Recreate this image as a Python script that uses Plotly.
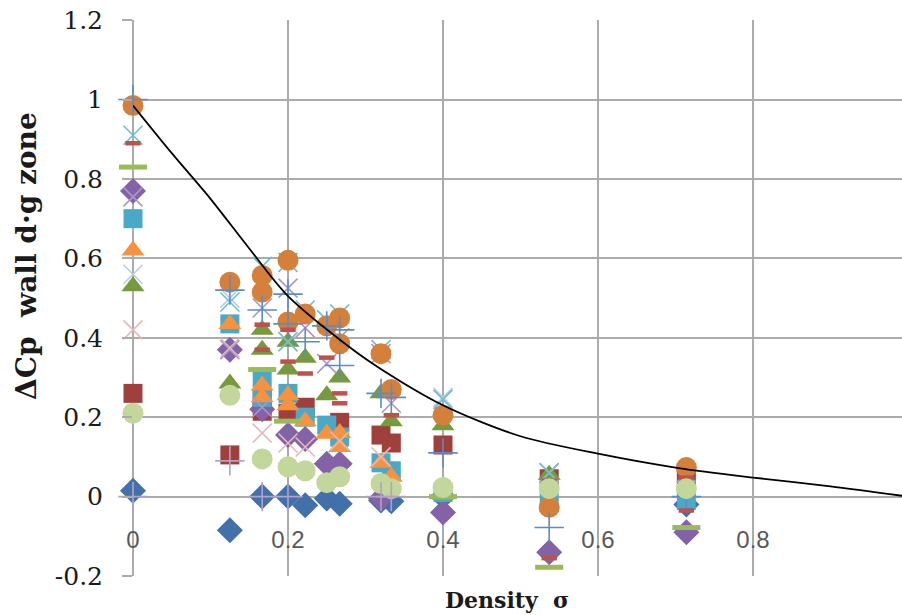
import plotly.graph_objects as go

# ---- data ----
X0, X1, X2, X3, X4, X5, X6 = 0.0, 0.125, 0.1667, 0.2, 0.2222, 0.25, 0.2667
X7, X8, X9, X10, X11 = 0.32, 0.3333, 0.4, 0.537, 0.714

s1_x = [X0, X1, X2, X3, X4, X5, X6, X7, X8, X9, X11]
s1_y = [0.015, -0.085, 0.0, 0.0, -0.022, -0.005, -0.018, -0.01, -0.012, 0.0, -0.02]

s2_x = [X0, X1, X2, X2, X3, X4, X6, X7, X8, X9, X10, X11]
s2_y = [0.26, 0.105, 0.245, 0.215, 0.21, 0.225, 0.187, 0.155, 0.135, 0.13, 0.045, 0.05]

s3_x = [X0, X1, X2, X2, X3, X3, X4, X5, X6, X7, X8, X9, X10]
s3_y = [0.53, 0.285, 0.42, 0.37, 0.39, 0.32, 0.35, 0.255, 0.30, 0.26, 0.19, 0.18, 0.055]

s4_x = [X0, X1, X2, X3, X4, X5, X6, X7, X9, X10, X11]
s4_y = [0.77, 0.37, 0.22, 0.155, 0.145, 0.083, 0.083, -0.005, -0.04, -0.14, -0.09]

s5_x = [X0, X1, X2, X2, X3, X4, X5, X6, X7, X8, X9, X10, X11]
s5_y = [0.70, 0.435, 0.30, 0.25, 0.26, 0.20, 0.18, 0.15, 0.085, 0.065, 0.01, -0.015, -0.01]

s6_x = [X0, X1, X2, X2, X3, X3, X4, X5, X6, X6, X7, X8, X9]
s6_y = [0.62, 0.435, 0.28, 0.25, 0.255, 0.23, 0.19, 0.158, 0.16, 0.125, 0.085, 0.05, 0.005]

s7_x = [X0, X1, X2, X2, X3, X4, X5, X6, X7, X8, X10]
s7_y = [0.755, 0.37, 0.475, 0.225, 0.525, 0.425, 0.335, 0.40, 0.36, 0.235, 0.06]

s8_x = [X0, X1, X3, X9, X10]
s8_y = [0.56, 0.50, 0.39, 0.25, 0.06]

s9_x = [X0, X1, X2, X3, X3, X4, X5, X6, X7, X9, X10, X11]
s9_y = [0.91, 0.49, 0.58, 0.59, 0.39, 0.47, 0.445, 0.46, 0.37, 0.245, 0.06, 0.06]

s10_x = [X0, X1, X2, X2, X3, X3, X4, X5, X6, X6, X7, X8, X9, X10, X11]
s10_y = [0.985, 0.54, 0.557, 0.515, 0.595, 0.44, 0.46, 0.43, 0.45, 0.385, 0.36, 0.27, 0.205, -0.027, 0.073]

s11_x = [X0, X1, X2, X3, X3, X4, X5, X6, X6, X7, X8, X9, X10, X11]
s11_y = [1.0, 0.52, 0.47, 0.51, 0.435, 0.39, 0.43, 0.42, 0.33, 0.26, 0.25, 0.11, -0.078, 0.0]

s12_x = [X0, X2, X2, X3, X3, X4, X5, X6, X6, X8, X10, X10, X11, X11]
s12_y = [0.89, 0.433, 0.37, 0.42, 0.34, 0.31, 0.35, 0.26, 0.235, 0.205, 0.04, -0.155, 0.048, -0.035]

s13_x = [X0, X2, X3, X9, X10, X11]
s13_y = [0.83, 0.32, 0.19, 0.0, -0.178, -0.078]

s14_x = [X0, X1, X2, X3, X4, X5, X6, X7, X8, X9, X10, X11]
s14_y = [0.21, 0.255, 0.095, 0.075, 0.065, 0.035, 0.05, 0.033, 0.02, 0.023, 0.02, 0.02]

s15_x = [X0, X1, X2, X3, X4, X6, X7]
s15_y = [0.42, 0.375, 0.16, 0.135, 0.125, 0.14, 0.10]

s16_x = [X0, X1, X2, X3, X7, X8]
s16_y = [0.0, 0.09, 0.0, 0.0, 0.0, 0.0]

curve_x = [0.0, 0.05, 0.1, 0.15, 0.2, 0.3, 0.4, 0.5, 0.6, 0.7, 0.8, 0.9, 1.0]
curve_y = [0.985, 0.865, 0.75, 0.625, 0.505, 0.347, 0.23, 0.152, 0.108, 0.073, 0.048, 0.026, 0.0]

y_ticks = [-0.2, 0.0, 0.2, 0.4, 0.6, 0.8, 1.0, 1.2]
y_tick_text = ["-0.2", "0", "0.2", "0.4", "0.6", "0.8", "1", "1.2"]
x_ticks = [0.0, 0.2, 0.4, 0.6, 0.8]
x_tick_text = ["0", "0.2", "0.4", "0.6", "0.8"]

# ---- styles ----
series = [
    (s1_x, s1_y, "diamond", 20, "#4170AA", 0),
    (s2_x, s2_y, "square", 19, "#A0403D", 0),
    (s3_x, s3_y, "triangle-up", 20, "#779A3F", 0),
    (s4_x, s4_y, "diamond", 20, "#8462A8", 0),
    (s5_x, s5_y, "square", 19, "#4AA9C6", 0),
    (s6_x, s6_y, "triangle-up", 20, "#F69240", 0),
    (s7_x, s7_y, "x-thin-open", 19, "#A898C8", 1.6),
    (s8_x, s8_y, "x-thin-open", 19, "#B9CDE5", 1.6),
    (s9_x, s9_y, "x-thin-open", 19, "#6DBDD3", 1.6),
    (s10_x, s10_y, "circle", 21, "#D4803A", 0),
    (s11_x, s11_y, "cross-thin-open", 21, "#5B8BC9", 1.6),
    (s12_x, s12_y, "line-ew-open", 11, "#C0504D", 4.5),
    (s13_x, s13_y, "line-ew-open", 20, "#9BBB59", 5),
    (s14_x, s14_y, "circle", 21, "#C3D69B", 0),
    (s15_x, s15_y, "x-thin-open", 19, "#E6B9B8", 1.6),
    (s16_x, s16_y, "cross-thin-open", 21, "#B3A2C7", 1.6),
]

fig = go.Figure()
for sx, sy, sym, size, col, lw in series:
    fig.add_trace(go.Scatter(
        x=sx, y=sy, mode="markers", cliponaxis=False,
        marker=dict(symbol=sym, size=size, color=col,
                    line=dict(width=lw, color=col)),
        showlegend=False, hoverinfo="skip",
    ))

fig.add_trace(go.Scatter(
    x=curve_x, y=curve_y, mode="lines",
    line=dict(color="black", width=1.8, shape="spline", smoothing=0.8),
    showlegend=False, hoverinfo="skip",
))

grid = "#ABABAB"
W, H = 902, 615
L, R, T, B = 133, 0, 20, 39
plot_w, plot_h = W - L - R, H - T - B

def px_x(page_x):
    return (page_x - L) / plot_w

def px_y(page_y):
    return (H - B - page_y) / plot_h

fig.update_layout(
    width=W, height=H,
    margin=dict(l=L, r=R, t=T, b=B, pad=0, autoexpand=False),
    paper_bgcolor="white", plot_bgcolor="white",
    xaxis=dict(
        range=[0, (902 - 133) / 775.0],
        tickvals=x_ticks, ticktext=x_tick_text,
        showgrid=True, gridcolor=grid, gridwidth=1.5,
        zeroline=True, zerolinecolor=grid, zerolinewidth=1.5,
        showline=False, ticks="",
        anchor="free", position=0.095,
        tickfont=dict(family="Liberation Sans", size=24, color="#595959"),
    ),
    yaxis=dict(
        range=[-0.2, 1.2004],
        tickvals=y_ticks, ticktext=y_tick_text,
        showgrid=True, gridcolor=grid, gridwidth=1.5,
        zeroline=True, zerolinecolor=grid, zerolinewidth=1.5,
        showline=False, ticks="outside", ticklen=10, tickwidth=1.5, tickcolor=grid,
        ticklabelstandoff=14, ticklabeloverflow="allow",
        tickfont=dict(family="DejaVu Serif", size=25, color="#1a1a1a"),
    ),
    annotations=[
        dict(text="<b>ΔCp\u00a0 wall d·g zone</b>", xref="paper", yref="paper",
             x=px_x(26), y=px_y(256), textangle=-90,
             showarrow=False, xanchor="center", yanchor="middle",
             font=dict(family="DejaVu Serif", size=28, color="#1a1a1a")),
        dict(text="<b>Density\u00a0\u00a0σ</b>", xref="paper", yref="paper",
             x=px_x(507), y=px_y(600),
             showarrow=False, xanchor="center", yanchor="middle",
             font=dict(family="DejaVu Serif", size=22, color="#1a1a1a")),
    ],
)

fig.write_html(
    "out.html",
    config={"displayModeBar": False},
    post_script="document.body.style.margin='0';document.body.style.overflow='hidden';",
)
